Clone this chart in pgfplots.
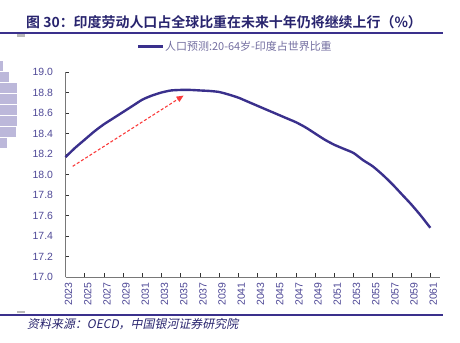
\documentclass[border=0pt]{standalone}
\usepackage{fontspec}
\setmainfont{Liberation Sans}
\newfontfamily\cjk{Noto Sans CJK SC}
\newfontfamily\cjkb{Noto Sans CJK SC Bold}
\newfontfamily\cjkit{Noto Sans CJK SC}[FakeSlant=0.2]
\usepackage{pgfplots}
\pgfplotsset{compat=1.18}
\usetikzlibrary{arrows.meta}
\definecolor{linec}{RGB}{58,48,140}
\definecolor{titlec}{RGB}{40,36,110}
\definecolor{tickc}{RGB}{78,72,150}
\definecolor{legc}{RGB}{115,110,160}
\definecolor{axgray}{RGB}{120,120,120}
\definecolor{lav}{RGB}{188,184,218}
\definecolor{arrowred}{RGB}{250,60,60}
\begin{document}
\begin{tikzpicture}[x=1bp,y=1bp]
\useasboundingbox (0,0) rectangle (460,342);
% decorative blocks at left
\foreach \i/\w in {0/3,1/9,2/17,3/17,4/17,5/17,6/16,7/7}
  \fill[lav] (0,{342-61-11*\i}) rectangle (\w,{342-61-11*\i-10});
% title
\node[anchor=west,text=titlec,font=\cjkb\fontsize{14}{16}\selectfont,inner sep=0] at (26,320) {图 30：印度劳动人口占全球比重在未来十年仍将继续上行（\%）};
\fill[gray!55] (17,307.6) rectangle (25,305.3);
% legend
\fill[linec] (138,294.2) rectangle (163,296.8);
\node[anchor=west,text=legc,font=\cjk\fontsize{11}{13}\selectfont,inner sep=0] at (165,295.5) {人口预测:20-64岁-印度占世界比重};
% source
\fill[gray!55] (17,28.6) rectangle (25,30.6);
\node[anchor=west,text=titlec,font=\cjkit\fontsize{12}{14}\selectfont,inner sep=0] at (27,18) {资料来源：OECD，中国银河证券研究院};
\begin{axis}[
  at={(65.5bp,65bp)}, anchor=south west,
  scale only axis, width=374.4bp, height=205bp,
  xmin=2023, xmax=2062, ymin=17, ymax=19,
  axis x line*=bottom, axis y line*=left,
  axis line style={draw=axgray,line width=0.9pt,-},
  xtick={2023,2025,2027,2029,2031,2033,2035,2037,2039,2041,2043,2045,2047,2049,2051,2053,2055,2057,2059,2061},
  ytick={17,17.2,17.4,17.6,17.8,18,18.2,18.4,18.6,18.8,19},
  tick align=inside, major tick length=4bp,
  tick style={draw=black!80,line width=0.7pt},
  /pgf/number format/assume math mode=true,
  xticklabel style={xshift=3bp,yshift=-2bp,rotate=90,anchor=east,text=tickc,font=\fontsize{10.5}{12}\selectfont,/pgf/number format/1000 sep={}},
  yticklabel style={xshift=-9bp,text=tickc,font=\fontsize{10.5}{12}\selectfont,/pgf/number format/fixed,/pgf/number format/fixed zerofill,/pgf/number format/precision=1},
  clip=false,
]
\addplot[linec,line width=2.4pt,smooth,tension=0.4] coordinates {
(2023,18.17) (2024,18.26) (2025,18.34) (2026,18.42) (2027,18.49) (2028,18.55)
(2029,18.61) (2030,18.67) (2031,18.73) (2032,18.77) (2033,18.80) (2034,18.82)
(2035,18.825) (2036,18.825) (2037,18.82) (2038,18.815) (2039,18.805) (2040,18.78)
(2041,18.75) (2042,18.71) (2043,18.67) (2044,18.63) (2045,18.59) (2046,18.55)
(2047,18.51) (2048,18.46) (2049,18.40) (2050,18.34) (2051,18.29) (2052,18.25)
(2053,18.21) (2054,18.14) (2055,18.08) (2056,18.00) (2057,17.91) (2058,17.81)
(2059,17.71) (2060,17.60) (2061,17.48)};
\draw[arrowred,line width=1.1pt,dash pattern=on 3pt off 2pt,-{Triangle[length=7pt,width=6pt]}] (axis cs:2023.75,18.08) -- (axis cs:2035.3,18.77);
\draw[linec,line width=1.8bp] (rel axis cs:-0.175,1.1893) -- (rel axis cs:1.0083,1.1893);
\draw[linec,line width=1.8bp] (rel axis cs:-0.175,-0.1834) -- (rel axis cs:1.0083,-0.1834);
\end{axis}
\end{tikzpicture}
\end{document}
